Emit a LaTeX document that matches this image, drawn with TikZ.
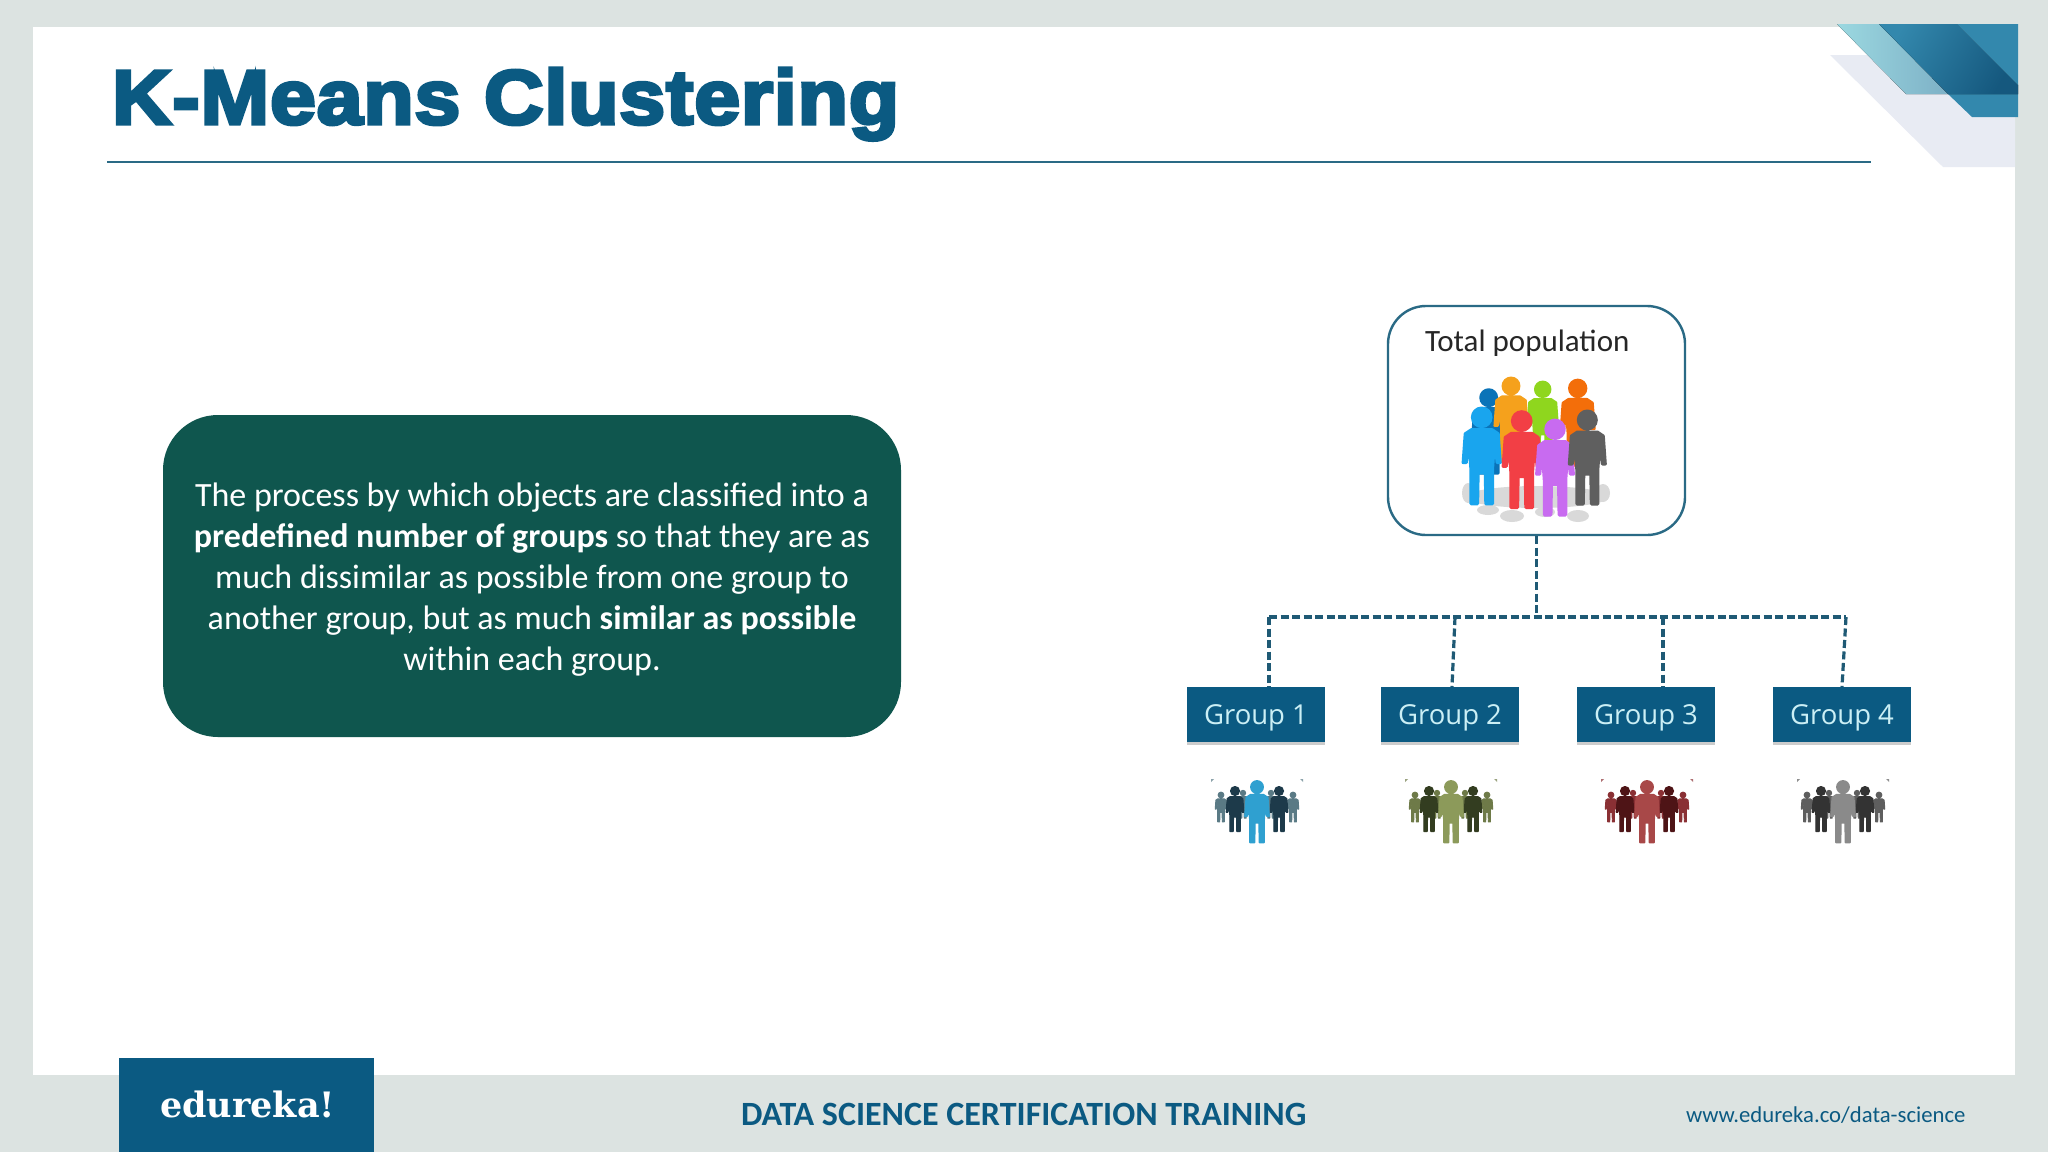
\documentclass[tikz,border=0pt]{standalone}
\usepackage{fontspec}
\usepackage{tikz}
\usetikzlibrary{shadows}
\setmainfont{Carlito}
\newfontfamily\titlefont[BoldFont={Liberation Sans Bold},BoldFeatures={FakeBold=4.5,FakeStretch=1.07,LetterSpace=1.1}]{Liberation Sans}
\newfontfamily\groupfont{Open Sans}
\newfontfamily\logofont{DejaVu Serif}
\definecolor{sheetbg}{HTML}{DCE3E1}
\definecolor{brandblue}{HTML}{0B5A82}
\definecolor{rulecol}{HTML}{2A6A85}
\definecolor{panelgreen}{HTML}{0F564E}
\definecolor{buscol}{HTML}{1F5A75}
\definecolor{groupink}{HTML}{CBEFF5}
\definecolor{cornergray}{HTML}{E8EBF3}
\definecolor{cornerpale}{HTML}{9BD8E0}
\definecolor{cornermist}{HTML}{7DB0C6}
\definecolor{cornerblue}{HTML}{3388AD}
\definecolor{cornerdeep}{HTML}{15587E}
\definecolor{g1-a}{HTML}{2FA0D0}\definecolor{g1-b}{HTML}{1D3A4A}\definecolor{g1-c}{HTML}{5A7A85}
\definecolor{g2-a}{HTML}{8C9A5A}\definecolor{g2-b}{HTML}{333D20}\definecolor{g2-c}{HTML}{6E7A48}
\definecolor{g3-a}{HTML}{A84848}\definecolor{g3-b}{HTML}{4E1416}\definecolor{g3-c}{HTML}{8A3034}
\definecolor{g4-a}{HTML}{8A8A8A}\definecolor{g4-b}{HTML}{333333}\definecolor{g4-c}{HTML}{5E5E5E}
\tikzset{
	person/.pic={
		\path[scale=#1, line width=#1*3pt, line join=round, pic actions]
			(0,0) circle[radius=9]
			(-10,12) -- (10,12) -- (16,16) -- (18,44) -- (15,44) -- (12.5,22) -- (10.5,50) -- (10.5,84) -- (4,84)
			-- (3.5,54) -- (-3.5,54) -- (-4,84) -- (-10.5,84) -- (-10.5,50) -- (-12.5,22) -- (-15,44) -- (-18,44) -- (-16,16) -- cycle;
	},
	plaintext/.style={inner sep=0pt, outer sep=0pt, anchor=base west},
	groupbox/.style={fill=brandblue, minimum width=138pt, minimum height=55pt, inner sep=0pt,
		text height=19pt, text depth=0pt, text=groupink, font=\groupfont\fontsize{27.5}{30}\selectfont,
		drop shadow={shadow xshift=0pt, shadow yshift=-2.5pt, opacity=.2, fill=black}},
	busline/.style={draw=buscol, line width=3.2pt, dash pattern=on 8pt off 3.5pt}
}
\begin{document}
\begin{tikzpicture}[x=1pt, y=-1pt]
	\useasboundingbox (0,0) rectangle (2048,1152);
	\fill[sheetbg] (0,0) rectangle (2048,1152);
	\fill[white] (33,27) rectangle (2015,1075);
	\fill[brandblue] (119,1058) rectangle (374,1152);
	\fill[cornergray] (1830,55) -- (1943,167) -- (2015,167) -- (2015,55) -- cycle;
	\fill[left color=cornerpale, right color=cornermist] (1837,24) -- (1906,94) -- (1950,94) -- (1880,24) -- cycle;
	\fill[cornerblue] (1948,94) -- (2018,94) -- (2018,117) -- (1972,117) -- cycle;
	\fill[left color=cornerblue, right color=cornerdeep, shading angle=60] (1879,24) -- (1957,24) -- (2018,85) -- (2018,94) -- (1948,94) -- cycle;
	\fill[cornerblue] (1957,24) -- (2018,24) -- (2018,85) -- cycle;
	\draw[rulecol, line width=2pt] (107,162) -- (1871,162);
	\node[plaintext, text=brandblue, font=\titlefont\bfseries\fontsize{77}{80}\selectfont] (title) at (112,124) {K-Means Clustering};

	\node[fill=panelgreen, rounded corners=55pt, minimum width=738pt, minimum height=322pt] (summary) at (532,576) {};
	\node[align=center, inner sep=0pt, text=white, font=\fontsize{34}{41}\selectfont] (summarytext) at (532,580) {The process by which objects are classified into a\\
		\textbf{predefined number of groups} so that they are as\\
		much dissimilar as possible from one group to\\
		another group, but as much \textbf{similar as possible}\\
		within each group.};

	\node[draw=rulecol, line width=2.4pt, fill=white, rounded corners=38pt, minimum width=297pt, minimum height=229pt] (total) at (1536.5,420.5) {};
	\node[plaintext, text=black!85, font=\fontsize{31}{34}\selectfont] (totallabel) at (1425,351) {Total population};
	\foreach \lx/\ly/\lrx/\lry in {1537/497/72/11, 1468/493/6/10, 1603/493/7/9, 1488/510/11/5, 1512/516/12/6, 1545/512/10/5, 1578/516/11/6} {
		\fill[black!15] (\lx,\ly) ellipse[x radius=\lrx, y radius=\lry];
	}
	\definecolor{pa}{HTML}{0A73B8}\definecolor{pb}{HTML}{F5A11C}\definecolor{pc}{HTML}{8FD61E}\definecolor{pd}{HTML}{F36E0A}
	\definecolor{pe}{HTML}{19A5EE}\definecolor{pf}{HTML}{F23F45}\definecolor{pg}{HTML}{C86BF0}\definecolor{ph}{HTML}{5F5F5F}
	\foreach \lx/\ly/\ls/\lcol in {1488.7/397.7/.9/pa, 1511/386/.9/pb, 1542.7/389.3/.83/pc, 1577.7/388.3/.92/pd,
		1481.7/417.3/1.03/pe, 1521.7/421/1.03/pf, 1555/429.3/1.02/pg, 1587.3/420/1/ph} {
		\pic[fill=\lcol, draw=\lcol] at (\lx,\ly) {person=\ls};
	}

	\foreach[count=\i] \lx/\lbus/\lshift in {1256/1269/13, 1450/1455/2, 1646/1663/17, 1842/1846/0} {
		\node[groupbox] (group-\i) at (\lx,714.5) {Group \i};
		\coordinate (bus-\i) at (\lbus,617);
		\draw[busline] (bus-\i) -- ([xshift=\lshift pt]group-\i.north);
		\foreach \lm in {-1,1} {
			\fill[g\i-c!70] (\lx+\lm*43+1,779) -- ++(\lm*3,0) -- ++(0,3) -- cycle;
			\pic[fill=g\i-c, draw=g\i-c] at (\lx+1+\lm*36,795) {person=.32};
			\pic[fill=g\i-c, draw=g\i-c] at (\lx+1+\lm*14,793) {person=.3};
		}
		\foreach \lm in {-1,1} {
			\pic[fill=g\i-b, draw=g\i-b] at (\lx+1+\lm*22,791) {person=.48};
		}
		\pic[fill=g\i-a, draw=g\i-a] at (\lx+1,787) {person=.66};
	}
	\draw[busline] (bus-1) -- (bus-4);
	\draw[busline] (total.south) -- (bus-1 -| total.south);

	\node[plaintext, text=white, font=\logofont\bfseries\fontsize{35}{38}\selectfont] (logo) at (160,1117) {edureka!};
	\node[plaintext, text=brandblue, font=\bfseries\fontsize{34}{36}\selectfont] (course) at (741,1125) {DATA SCIENCE CERTIFICATION TRAINING};
	\node[plaintext, text=brandblue, font=\fontsize{22.7}{26}\selectfont] (site) at (1686,1122) {www.edureka.co/data-science};
\end{tikzpicture}
\end{document}
